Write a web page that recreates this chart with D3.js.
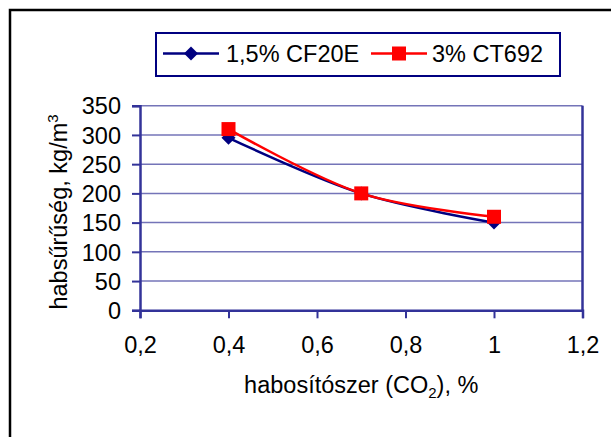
<!DOCTYPE html>
<html><head><meta charset="utf-8">
<script src="https://cdn.jsdelivr.net/npm/d3@7"></script>
<style>
html,body{margin:0;padding:0;background:#fff;}
text{font-family:"Liberation Sans",Arial,sans-serif;fill:#000;}
</style></head>
<body>
<svg id="c" width="611" height="437"></svg>
<script>
const xValues = [0.4, 0.7, 1.0];
const seriesNames = ["1,5% CF20E", "3% CT692"];
const seriesA = [295, 200, 150];
const seriesB = [310, 200, 160];
const xTicks = [0.2, 0.4, 0.6, 0.8, 1.0, 1.2];
const yTicks = [0, 50, 100, 150, 200, 250, 300, 350];

const svg = d3.select("#c");
const fs = 23.5;
const fmt = d => String(d).replace(".", ",");

// outer frame (extends beyond right/bottom)
svg.append("rect").attr("x",10).attr("y",10).attr("width",620).attr("height",440)
  .attr("fill","#fff").attr("stroke","#000").attr("stroke-width",2.5);

const x = d3.scaleLinear().domain([0.2,1.2]).range([140,582.5]);
const y = d3.scaleLinear().domain([0,350]).range([310.3,105.7]);

// gridlines
svg.append("g").selectAll("line").data(yTicks.filter(d=>d>0)).join("line")
  .attr("x1",x(0.2)).attr("x2",x(1.2)).attr("y1",d=>y(d)).attr("y2",d=>y(d))
  .attr("stroke","#7474b8").attr("stroke-width",1.5);

// right border
svg.append("line").attr("x1",x(1.2)).attr("x2",x(1.2)).attr("y1",y(350)).attr("y2",y(0))
  .attr("stroke","#333399").attr("stroke-width",2.5);

// axes
const yAxis = svg.append("g").attr("transform",`translate(${x(0.2)},0)`)
  .call(d3.axisLeft(y).tickValues(yTicks).tickSize(8).tickPadding(11).tickFormat(d=>d));
const xAxis = svg.append("g").attr("transform",`translate(0,${y(0)})`)
  .call(d3.axisBottom(x).tickValues(xTicks).tickSize(8).tickPadding(18).tickFormat(fmt));
[yAxis,xAxis].forEach(g=>{
  g.select(".domain").attr("stroke","#333399").attr("stroke-width",2.5);
  g.selectAll(".tick line").attr("stroke","#333399").attr("stroke-width",2);
  g.selectAll(".tick text").attr("font-size",fs).attr("font-family","Liberation Sans, Arial, sans-serif").attr("fill","#000");
});
yAxis.selectAll(".tick text").attr("dy","0.35em");

// axis titles
const xt = svg.append("text").attr("x",(x(0.2)+x(1.2))/2).attr("y",393).attr("text-anchor","middle").attr("font-size",fs);
xt.append("tspan").text("habosítószer (CO");
xt.append("tspan").attr("font-size",15).attr("dy",5).text("2");
xt.append("tspan").attr("dy",-5).text("), %");

const yt = svg.append("text").attr("transform",`translate(67,${(y(0)+y(350))/2+4}) rotate(-90)`)
  .attr("text-anchor","middle").attr("font-size",fs);
yt.append("tspan").text("habsűrűség, kg/m");
yt.append("tspan").attr("font-size",15).attr("dy",-9).text("3");

// lines
const line = d3.line().x(d=>x(d[0])).y(d=>y(d[1])).curve(d3.curveCatmullRom.alpha(0.5));
const series = [
  {name:seriesNames[0], vals:seriesA, color:"#000080", marker:"diamond"},
  {name:seriesNames[1], vals:seriesB, color:"#ff0000", marker:"square"}
];
function drawMarker(g, cx, cy, s){
  if(s.marker==="square"){
    g.append("rect").attr("x",cx-7).attr("y",cy-7).attr("width",14).attr("height",14).attr("fill",s.color);
  } else {
    g.append("path").attr("d",d3.symbol().type(d3.symbolSquare).size(98)())
      .attr("transform",`translate(${cx},${cy}) rotate(45)`).attr("fill",s.color);
  }
}
series.forEach(s=>{
  const pts = xValues.map((xv,i)=>[xv,s.vals[i]]);
  svg.append("path").attr("d",line(pts)).attr("fill","none").attr("stroke",s.color).attr("stroke-width",2.5);
  const g = svg.append("g");
  pts.forEach(p=>drawMarker(g, x(p[0]), y(p[1]), s));
});

// legend
svg.append("rect").attr("x",156).attr("y",33).attr("width",404).attr("height",43)
  .attr("fill","#fff").attr("stroke","#000080").attr("stroke-width",2);
const legItems = [{x0:163,x1:219,tx:226},{x0:371,x1:427,tx:432}];
series.forEach((s,i)=>{
  const L = legItems[i], ly = 53.5;
  svg.append("line").attr("x1",L.x0).attr("x2",L.x1).attr("y1",ly).attr("y2",ly).attr("stroke",s.color).attr("stroke-width",2.5);
  const g = svg.append("g");
  drawMarker(g,(L.x0+L.x1)/2,ly,s);
  svg.append("text").attr("x",L.tx).attr("y",ly).attr("dy","0.35em").attr("font-size",fs).text(s.name);
});
</script>
</body></html>
